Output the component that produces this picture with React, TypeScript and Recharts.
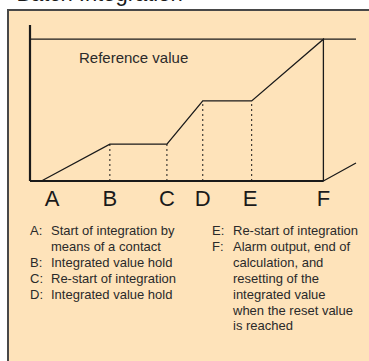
import { LineChart, Line, XAxis, YAxis, ReferenceLine } from "recharts";

// event markers along the time axis
const events = ["A", "B", "C", "D", "E", "F"];
// time of each event (0-100 across the plot)
const eventTimes = [3.5, 24.5, 42, 53, 68, 90];
// integrated value reached at each event (reference value = 100)
const eventValues = [0, 26, 26, 56.5, 56.5, 100];
// where the letters sit under the axis
const labelTimes = [6.8, 24.5, 42, 53, 67.5, 90];
const referenceValue = 100;
// integration starts again after the reset at F
const restartTimes = [90, 100];
const restartValues = [0, 12.7];

const leftNotes: [string, string[]][] = [
  ["A:", ["Start of integration by", "means of a contact"]],
  ["B:", ["Integrated value hold"]],
  ["C:", ["Re-start of integration"]],
  ["D:", ["Integrated value hold"]],
];
const rightNotes: [string, string[]][] = [
  ["E:", ["Re-start of integration"]],
  [
    "F:",
    [
      "Alarm output, end of",
      "calculation, and",
      "resetting of the",
      "integrated value",
      "when the reset value",
      "is reached",
    ],
  ],
];

const FONT = "'Liberation Sans', Arial, Helvetica, sans-serif";
const INK = "#1a1a1a";

const trace = [
  ...eventTimes.map((t, i) => ({ time: t, value: eventValues[i] })),
  ...restartTimes.map((t, i) => ({ time: t, value: restartValues[i] })),
];

function Notes({ items, left }: { items: [string, string[]][]; left: number }) {
  return (
    <div
      style={{
        position: "absolute",
        left,
        top: 223,
        fontFamily: FONT,
        fontSize: 13,
        lineHeight: "15.9px",
        color: "#2a2a2a",
        whiteSpace: "nowrap",
      }}
    >
      {items.map(([key, lines]) => (
        <div key={key} style={{ display: "flex" }}>
          <span style={{ width: 21 }}>{key}</span>
          <span>
            {lines.map((l, i) => (
              <div key={i}>{l}</div>
            ))}
          </span>
        </div>
      ))}
    </div>
  );
}

export default function App() {
  return (
    <div
      style={{
        position: "relative",
        width: 369,
        height: 361,
        overflow: "hidden",
        background: "#ffffff",
      }}
    >
      <style>{"body{margin:0}"}</style>
      {/* title, mostly cut off at the top */}
      <div
        style={{
          position: "absolute",
          left: -3,
          top: -17,
          fontFamily: FONT,
          fontSize: 22,
          lineHeight: "22px",
          color: INK,
          whiteSpace: "nowrap",
        }}
      >
        ● Batch Integration
      </div>
      {/* panel */}
      <div
        style={{
          position: "absolute",
          left: 7,
          top: 9,
          width: 420,
          height: 420,
          border: "2px solid #484848",
          background: "#fee3ba",
        }}
      />
      <div style={{ position: "absolute", left: 0, top: 0 }}>
        <LineChart
          width={369}
          height={361}
          data={trace}
          margin={{ top: 25, right: 13, bottom: 150, left: 30 }}
        >
          <XAxis
            dataKey="time"
            type="number"
            domain={[0, 100]}
            ticks={labelTimes}
            tickFormatter={(_v, i) => events[i]}
            axisLine={false}
            tickLine={false}
            tickSize={6}
            tickMargin={3}
            height={30}
            interval={0}
            tick={{ fontSize: 22, fill: INK, fontFamily: FONT }}
          />
          <YAxis hide type="number" domain={[0, 110]} />
          <ReferenceLine
            y={referenceValue}
            stroke={INK}
            strokeWidth={1.2}
          />
          {eventTimes.slice(1, 5).map((t, i) => (
            <ReferenceLine
              key={t}
              segment={[
                { x: t, y: 0 },
                { x: t, y: eventValues[i + 1] },
              ]}
              stroke={INK}
              strokeWidth={1}
              strokeDasharray="2 3"
            />
          ))}
          <ReferenceLine
            segment={[
              { x: 0, y: 0 },
              { x: 0, y: 110 },
            ]}
            stroke={INK}
            strokeWidth={2.2}
          />
          <ReferenceLine
            segment={[
              { x: 0, y: 0 },
              { x: eventTimes[5], y: 0 },
            ]}
            stroke={INK}
            strokeWidth={2.2}
          />
          <Line
            type="linear"
            dataKey="value"
            stroke={INK}
            strokeWidth={1.3}
            dot={false}
            isAnimationActive={false}
          />
        </LineChart>
      </div>
      <div
        style={{
          position: "absolute",
          left: 79,
          top: 49,
          fontFamily: FONT,
          fontSize: 15,
          lineHeight: "18px",
          color: "#2a2a2a",
          whiteSpace: "nowrap",
        }}
      >
        Reference value
      </div>
      <Notes items={leftNotes} left={30} />
      <Notes items={rightNotes} left={212} />
    </div>
  );
}
